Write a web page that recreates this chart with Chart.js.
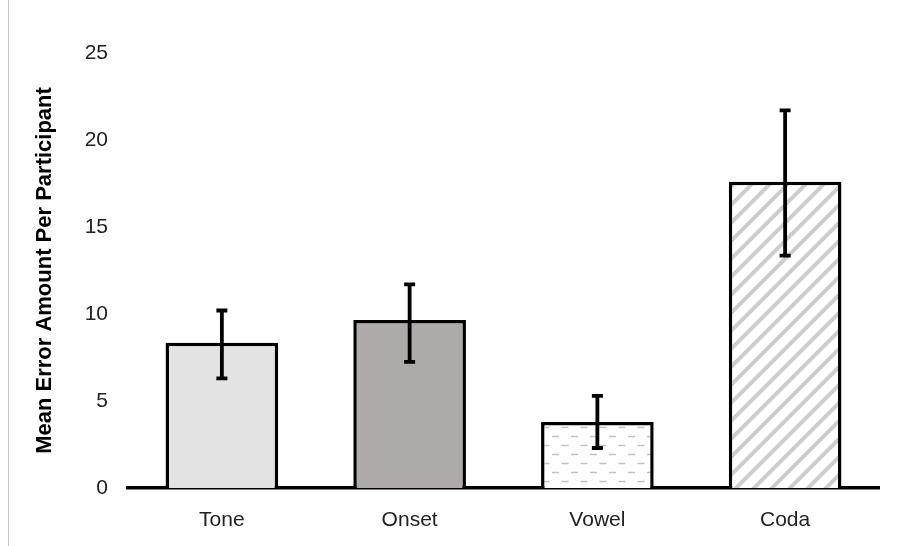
<!DOCTYPE html>
<html>
<head>
<meta charset="utf-8">
<title>Mean Error Amount Per Participant</title>
<script src="https://cdn.jsdelivr.net/npm/chart.js@4/dist/chart.umd.min.js"></script>
<style>
  html, body { margin: 0; padding: 0; background: #fff; }
  #wrap { position: relative; width: 899px; height: 546px; }
  #edge { position: absolute; left: 8px; top: 0; width: 1px; height: 546px; background: #c4c4c4; }
  canvas { display: block; }
</style>
</head>
<body>
<div id="wrap">
  <canvas id="chart" width="899" height="546"></canvas>
  <div id="edge"></div>
</div>
<script>
// datos
const categories = ["Tone", "Onset", "Vowel", "Coda"];
const meanErrors = [8.35, 9.65, 3.8, 17.6];
const errLow = [6.3, 7.25, 2.3, 13.35];
const errHigh = [10.2, 11.7, 5.3, 21.7];
const yTicks = [0, 5, 10, 15, 20, 25];

// relleno con guiones (Vowel)
function dashPattern() {
  const c = document.createElement("canvas");
  c.width = 19; c.height = 18;
  const g = c.getContext("2d");
  g.fillStyle = "#ffffff";
  g.fillRect(0, 0, 19, 18);
  g.strokeStyle = "#c2c2c2";
  g.lineWidth = 1.6;
  g.beginPath();
  g.moveTo(1, 4.5); g.lineTo(8, 4.5);
  g.moveTo(10.5, 13.5); g.lineTo(17.5, 13.5);
  g.stroke();
  return g.createPattern(c, "repeat");
}

// rayado diagonal (Coda)
function hatchPattern() {
  const s = 18;
  const c = document.createElement("canvas");
  c.width = s; c.height = s;
  const g = c.getContext("2d");
  g.fillStyle = "#ffffff";
  g.fillRect(0, 0, s, s);
  g.strokeStyle = "#cdcdcd";
  g.lineWidth = 4;
  g.beginPath();
  g.moveTo(-2, s + 2); g.lineTo(s + 2, -2);
  g.moveTo(-2, 2); g.lineTo(2, -2);
  g.moveTo(s - 2, s + 2); g.lineTo(s + 2, s - 2);
  g.stroke();
  return g.createPattern(c, "repeat");
}

// barras de error
const errorBars = {
  id: "errorBars",
  afterDatasetsDraw(chart) {
    const ctx = chart.ctx;
    const y = chart.scales.y;
    const meta = chart.getDatasetMeta(0);
    ctx.save();
    ctx.strokeStyle = "#000";
    ctx.lineWidth = 3.8;
    ctx.lineCap = "butt";
    meta.data.forEach((bar, i) => {
      const x = bar.x;
      const top = y.getPixelForValue(errHigh[i]);
      const bot = y.getPixelForValue(errLow[i]);
      ctx.beginPath();
      ctx.moveTo(x, top); ctx.lineTo(x, bot);
      ctx.moveTo(x - 5.5, top); ctx.lineTo(x + 5.5, top);
      ctx.moveTo(x - 5.5, bot); ctx.lineTo(x + 5.5, bot);
      ctx.stroke();
    });
    ctx.restore();
  }
};

const ctx = document.getElementById("chart");
new Chart(ctx, {
  type: "bar",
  data: {
    labels: categories,
    datasets: [{
      data: meanErrors,
      backgroundColor: ["#e3e3e3", "#aeaaa9", dashPattern(), hatchPattern()],
      borderColor: "#000",
      borderWidth: 3.5,
      barPercentage: 0.6,
      categoryPercentage: 1
    }]
  },
  options: {
    responsive: false,
    animation: false,
    layout: { padding: { left: 32, right: 20, top: 53, bottom: 0 } },
    plugins: {
      legend: { display: false },
      tooltip: { enabled: false }
    },
    scales: {
      x: {
        grid: { display: false },
        border: { display: true, color: "#000", width: 3.5 },
        ticks: {
          color: "#222",
          padding: 12,
          font: { family: "'Liberation Sans', Arial, sans-serif", size: 21 }
        },
        afterFit(scale) { scale.height = 58; }
      },
      y: {
        min: 0,
        max: 25,
        afterBuildTicks(scale) { scale.ticks = yTicks.map(v => ({ value: v })); },
        grid: { display: false, drawTicks: false },
        border: { display: false },
        ticks: {
          color: "#222",
          padding: 20,
          font: { family: "'Liberation Sans', Arial, sans-serif", size: 21 }
        },
        title: {
          display: true,
          text: "Mean Error Amount Per Participant",
          color: "#000",
          padding: 0,
          font: { family: "'Liberation Sans', Arial, sans-serif", size: 22, weight: "bold" }
        },
        afterFit(scale) { scale.width = 96; }
      }
    }
  },
  plugins: [errorBars]
});
</script>
</body>
</html>
